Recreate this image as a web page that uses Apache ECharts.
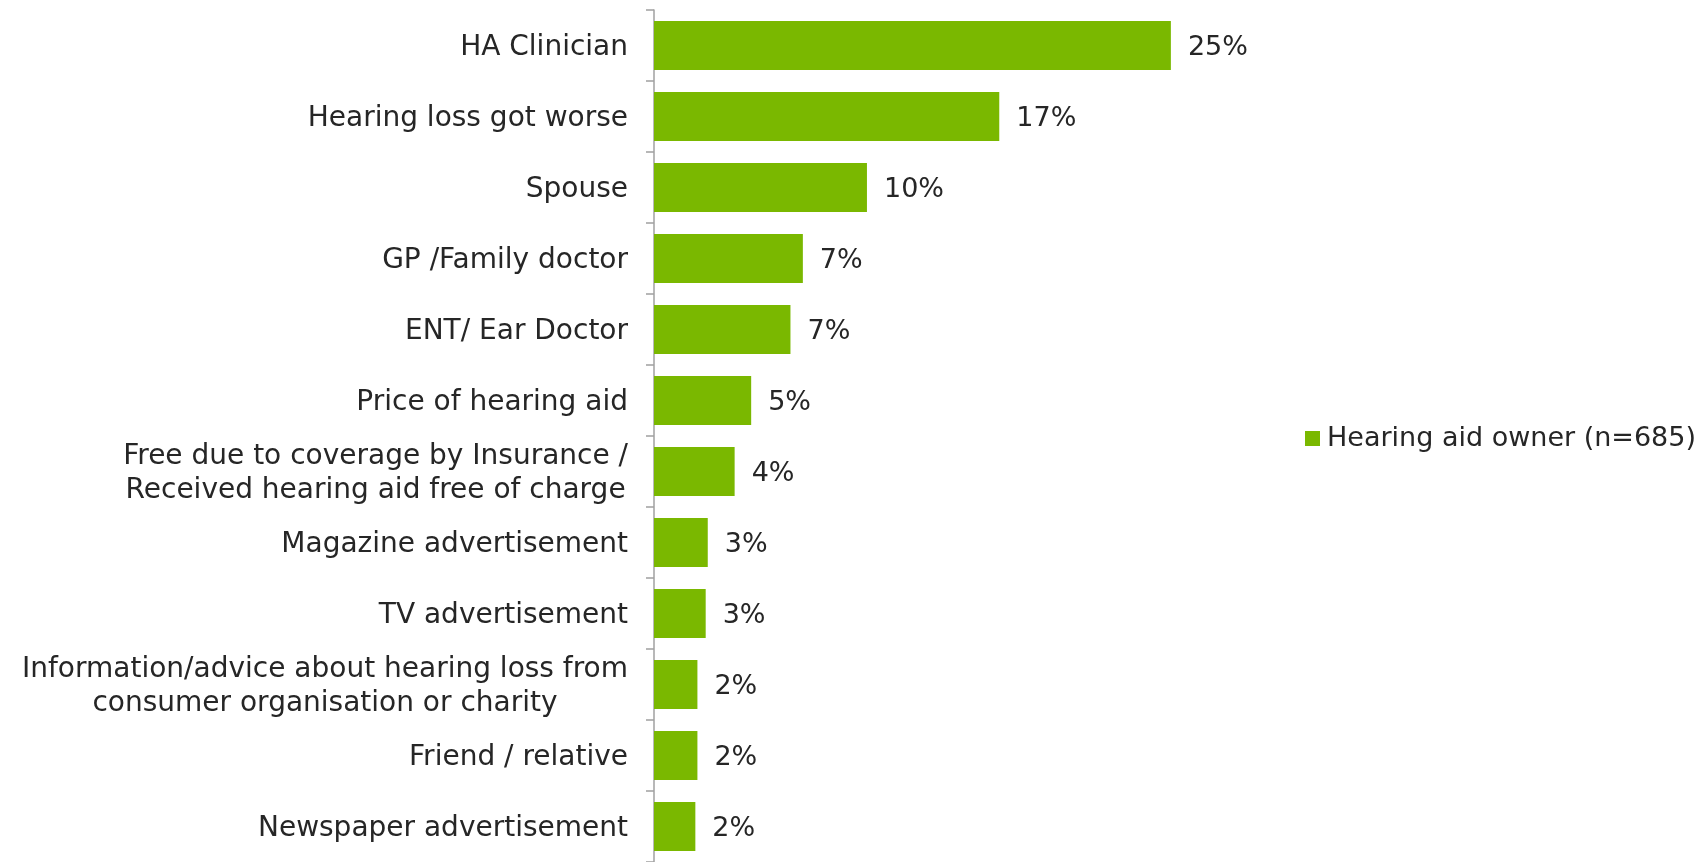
<!DOCTYPE html>
<html>
<head>
<meta charset="utf-8">
<script src="https://cdn.jsdelivr.net/npm/echarts@6/dist/echarts.min.js"></script>
<style>
  html, body { margin: 0; padding: 0; background: #fff; }
  #chart { width: 1698px; height: 862px; }
</style>
</head>
<body>
<div id="chart"></div>
<script>
var categories = [
  'HA Clinician',
  'Hearing loss got worse',
  'Spouse',
  'GP /Family doctor',
  'ENT/ Ear Doctor',
  'Price of hearing aid',
  'Free due to coverage by Insurance /\nReceived hearing aid free of charge',
  'Magazine advertisement',
  'TV advertisement',
  'Information/advice about hearing loss from\nconsumer organisation or charity',
  'Friend / relative',
  'Newspaper advertisement'
];
var ownerValues = [25.0, 16.7, 10.3, 7.2, 6.6, 4.7, 3.9, 2.6, 2.5, 2.1, 2.1, 2.0];
var seriesName = 'Hearing aid owner (n=685)';

var chart = echarts.init(document.getElementById('chart'));
var textColor = '#262626';
var fontFamily = 'DejaVu Sans';
var fontSize = 27;
var catFontSize = 28;

var option = {
  animation: false,
  color: ['#7AB800'],
  textStyle: { fontFamily: fontFamily },
  grid: {
    left: 654,
    right: 217,
    top: 10,
    bottom: 0
  },
  legend: {
    orient: 'vertical',
    left: 1300,
    top: 420,
    icon: 'rect',
    itemWidth: 15,
    itemHeight: 15,
    itemGap: 6,
    textStyle: { color: textColor, fontSize: fontSize, fontFamily: fontFamily, padding: [0, 0, 0, 2] },
    data: [seriesName]
  },
  xAxis: {
    type: 'value',
    min: 0,
    max: 40,
    show: false
  },
  yAxis: {
    type: 'category',
    inverse: true,
    data: categories,
    axisLine: { show: true, lineStyle: { color: '#A0A0A0', width: 1.5 } },
    axisTick: { show: true, length: 8, lineStyle: { color: '#A0A0A0', width: 1.5 } },
    axisLabel: {
      margin: 26,
      padding: [5, 0, 0, 0],
      color: textColor,
      fontSize: catFontSize,
      fontFamily: fontFamily,
      formatter: function (v) {
        return v.split('\n').map(function (line) {
          return '{c|' + line + '}';
        }).join('\n');
      },
      rich: {
        c: { align: 'center', fontSize: catFontSize, color: textColor, fontFamily: fontFamily, lineHeight: 34 }
      }
    }
  },
  series: [{
    name: seriesName,
    type: 'bar',
    data: ownerValues,
    barCategoryGap: '31%',
    itemStyle: { color: '#7AB800' },
    label: {
      show: true,
      position: 'right',
      distance: 17,
      offset: [0, 2],
      color: textColor,
      fontSize: fontSize,
      fontFamily: fontFamily,
      formatter: function (p) {
        return Math.round(p.value) + '%';
      }
    }
  }]
};
chart.setOption(option);
</script>
</body>
</html>
